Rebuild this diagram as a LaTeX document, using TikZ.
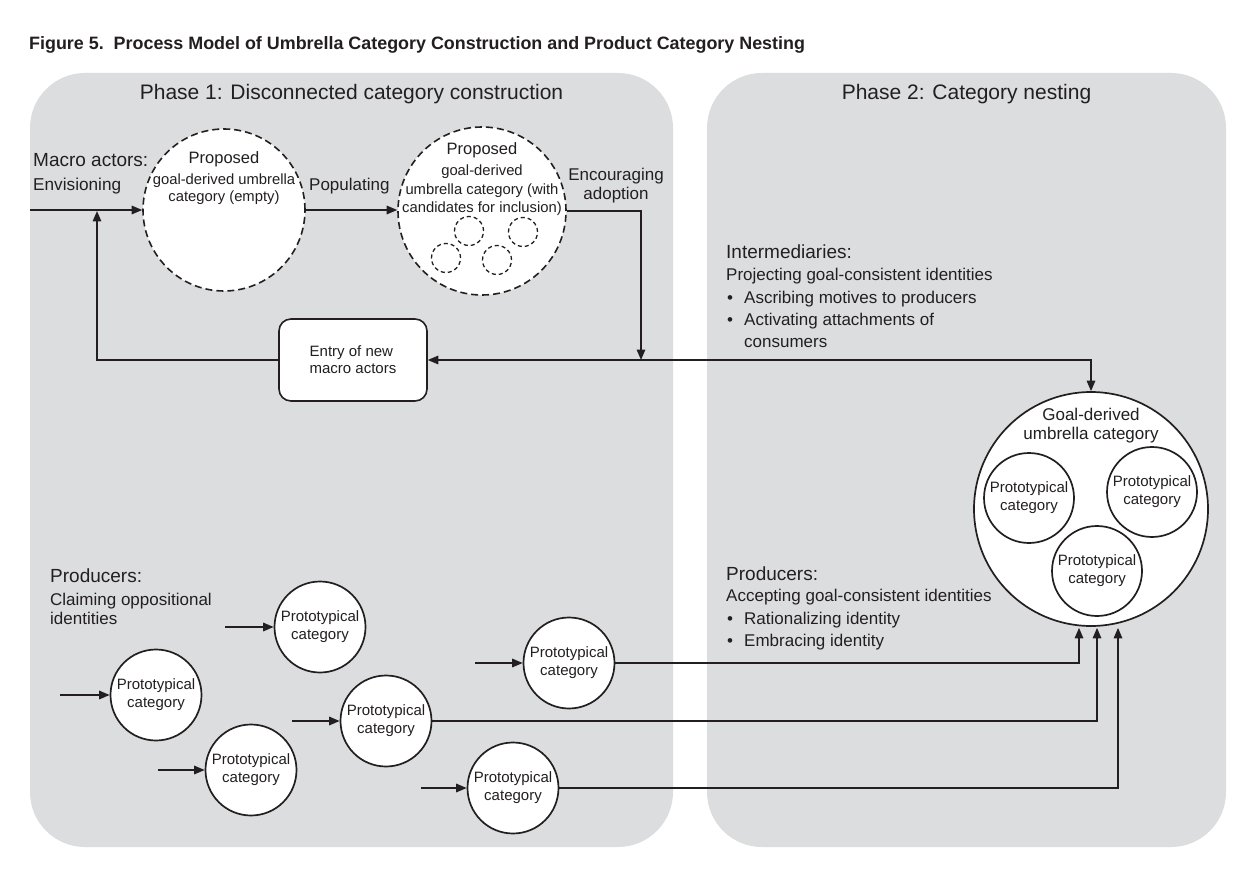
\documentclass[tikz,border=0pt]{standalone}
\usepackage{fontspec}
\setmainfont{Liberation Sans}
\usetikzlibrary{arrows.meta,calc}
\definecolor{panelgray}{RGB}{220,221,223}
\definecolor{ink}{RGB}{35,31,32}
\newcommand{\fsz}[1]{\fontsize{#1}{#1}\selectfont}
\begin{document}
\begin{tikzpicture}[x=1pt,y=-1pt,
  >={Triangle[length=10.5pt,width=8.5pt]},
  panel/.style={fill=panelgray,draw=none,rounded corners=55pt},
  dcirc/.style={circle,draw=ink,fill=white,line width=1.6pt,dash pattern=on 7pt off 4pt,inner sep=0pt},
  smalld/.style={circle,draw=ink,fill=white,line width=1.3pt,dash pattern=on 4pt off 3pt,inner sep=0pt,minimum size=29pt},
  pcirc/.style={circle,draw=ink,fill=white,line width=1.7pt,inner sep=0pt,minimum size=91pt,align=center,text=ink,font=\fontsize{15}{18}\selectfont},
  conn/.style={draw=ink,line width=1.6pt},
  txt/.style={text=ink,inner sep=0pt,anchor=base},
  ltxt/.style={text=ink,inner sep=0pt,anchor=base west},
  entrybox/.style={draw=ink,fill=white,line width=1.6pt,rounded corners=12pt,minimum width=148pt,minimum height=82pt,align=left,text=ink,font=\fontsize{15}{17}\selectfont,inner sep=0pt}
]
\useasboundingbox (0,0) rectangle (1244,882);
\fill[white] (0,0) rectangle (1244,882);

% title
\node[ltxt,font=\bfseries\fontsize{17.9}{20}\selectfont] (title) at (29,50) {Figure 5.\ \ Process Model of Umbrella Category Construction and Product Category Nesting};

% panels
\node[panel,minimum width=643pt,minimum height=774pt,inner sep=0pt] (ph1) at (351.5,460) {};
\node[panel,minimum width=519pt,minimum height=774pt,inner sep=0pt] (ph2) at (966.5,460) {};

\node[txt,font=\fsz{21}] (ph1t) at (351.5,100) {Phase 1: Disconnected category construction};
\node[txt,font=\fsz{21}] (ph2t) at (966.5,100) {Phase 2: Category nesting};

% macro actors
\node[ltxt,font=\fsz{19}] (macro) at (33,167) {Macro actors:};
\node[ltxt,font=\fsz{17.2}] (envis) at (33,190.7) {Envisioning};

% proposed circles
\node[dcirc,minimum size=162pt] (c1) at (224,210) {};
\node[txt,font=\fsz{16.5}] (c1a) at (224,163.3) {Proposed};
\node[txt,font=\fsz{14.8}] (c1b) at (224,185) {goal-derived umbrella};
\node[txt,font=\fsz{14.8}] (c1c) at (224,202) {category (empty)};

\node[ltxt,font=\fsz{17}] (popul) at (309,190.7) {Populating};

\node[dcirc,minimum size=168pt] (c2) at (482,211) {};
\node[txt,font=\fsz{16.5}] (c2a) at (482,155) {Proposed};
\node[txt,font=\fsz{14.8}] (c2b) at (482,176) {goal-derived};
\node[txt,font=\fsz{14.8}] (c2c) at (482,194.3) {umbrella category (with};
\node[txt,font=\fsz{14.8}] (c2d) at (482,212.3) {candidates for inclusion)};
\node[smalld] (s1) at (469,231) {};
\node[smalld] (s2) at (523,232) {};
\node[smalld] (s3) at (446,258) {};
\node[smalld] (s4) at (497,260) {};

\node[txt,font=\fsz{17}] (enc1) at (616,181) {Encouraging};
\node[txt,font=\fsz{17}] (enc2) at (616,200) {adoption};

% entry box
\node[entrybox] (entry) at (353,360) {Entry of new\\macro actors};

% intermediaries
\node[ltxt,font=\fsz{19}] (inter) at (726,259) {Intermediaries:};
\node[ltxt,font=\fsz{17}] (proj) at (726,280.7) {Projecting goal-consistent identities};
\node[ltxt,font=\fsz{17}] (asc) at (727,304) {\makebox[17pt][l]{\textbullet}Ascribing motives to producers};
\node[ltxt,font=\fsz{17}] (act) at (727,326) {\makebox[17pt][l]{\textbullet}Activating attachments of};
\node[ltxt,font=\fsz{17}] (cons) at (744,347.7) {consumers};

% big circle
\node[circle,draw=ink,fill=white,line width=1.7pt,minimum size=234pt,inner sep=0pt] (big) at (1091,509) {};
\node[txt,font=\fsz{17}] (biga) at (1091,420) {Goal-derived};
\node[txt,font=\fsz{17}] (bigb) at (1091,439.3) {umbrella category};
\node[pcirc,minimum size=90pt] (in1) at (1029,498) {Prototypical\\category};
\node[pcirc,minimum size=90pt] (in2) at (1152,492) {Prototypical\\category};
\node[pcirc,minimum size=90pt] (in3) at (1097,571) {Prototypical\\category};

% producers right
\node[ltxt,font=\fsz{19}] (prodr) at (726,580) {Producers:};
\node[ltxt,font=\fsz{17}] (accept) at (726,601.7) {Accepting goal-consistent identities};
\node[ltxt,font=\fsz{17}] (ratio) at (727,624) {\makebox[17pt][l]{\textbullet}Rationalizing identity};
\node[ltxt,font=\fsz{17}] (embr) at (727,646.7) {\makebox[17pt][l]{\textbullet}Embracing identity};

% producers left
\node[ltxt,font=\fsz{19}] (prodl) at (50,582.7) {Producers:};
\node[ltxt,font=\fsz{17}] (claim1) at (50,605) {Claiming oppositional};
\node[ltxt,font=\fsz{17}] (claim2) at (50,624.3) {identities};

\node[pcirc] (pA) at (320,627) {Prototypical\\category};
\node[pcirc] (pB) at (156,695) {Prototypical\\category};
\node[pcirc] (pC) at (251,770) {Prototypical\\category};
\node[pcirc] (pD) at (386,721) {Prototypical\\category};
\node[pcirc] (pE) at (569,663) {Prototypical\\category};
\node[pcirc] (pF) at (513,788) {Prototypical\\category};

% coordinates
\coordinate (start1) at (30,210);
\coordinate (fb) at (97,211);
\coordinate (jn) at (641,360);
\coordinate (aA) at (225,627);
\coordinate (aB) at (60,695);
\coordinate (aC) at (158,770);
\coordinate (aD) at (292,721);
\coordinate (aE) at (475,663);
\coordinate (aF) at (421,788);

% connectors
\draw[conn,->] (start1) -- (start1 -| c1.west);
\draw[conn,->] (c1.east) -- (c1.east -| c2.west);
\draw[conn,->] (entry.west) -| (fb);
\draw[conn,->] (c2.east) -| (jn);
\draw[conn,<->] (entry.east) -| (big.north);

\draw[conn,->] (aA) -- (pA.west);
\draw[conn,->] (aB) -- (pB.west);
\draw[conn,->] (aC) -- (pC.west);
\draw[conn,->] (aD) -- (pD.west);
\draw[conn,->] (aE) -- (pE.west);
\draw[conn,->] (aF) -- (pF.west);

\draw[conn,->] (pE.east) -| ($(big.south)+(-12,1)$);
\draw[conn,->] (pD.east) -| ($(big.south)+(6,1)$);
\draw[conn,->] (pF.east) -| ($(big.south)+(27,1)$);
\end{tikzpicture}
\end{document}
